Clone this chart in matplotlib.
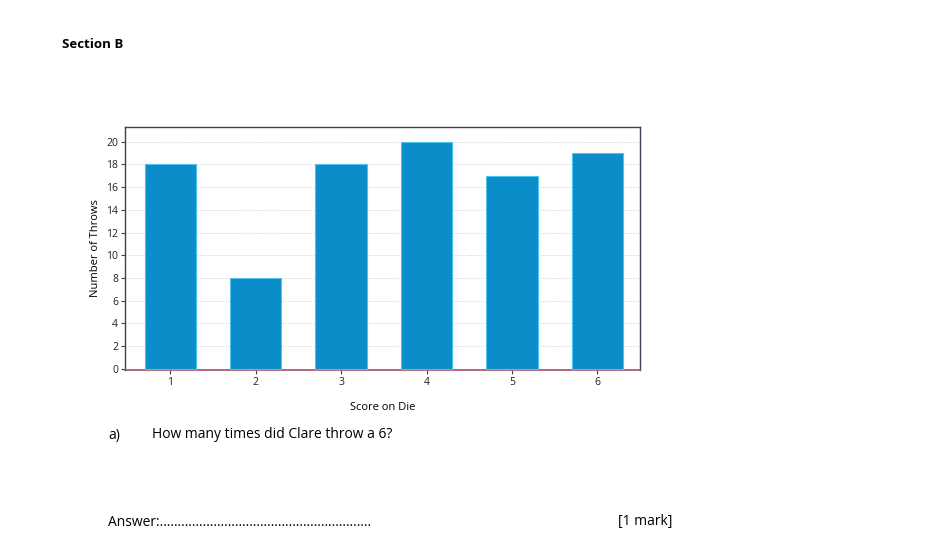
import matplotlib
matplotlib.use("Agg")
import matplotlib.pyplot as plt

scores = [1, 2, 3, 4, 5, 6]
throws = [18, 8, 18, 20, 17, 19]
y_ticks = list(range(0, 21, 2))

plt.rcParams["font.family"] = ["Open Sans", "DejaVu Sans"]

fig = plt.figure(figsize=(9.45, 5.38), dpi=100)
ax = fig.add_axes([0.1323, 0.3123, 0.545, 0.4517])

ax.bar(scores, throws, width=0.6, color="#0b8dca", edgecolor="#4cc3ee", linewidth=0.8, zorder=3)
ax.set_xlim(0.47, 6.5)
ax.set_ylim(-0.1, 21.3)
ax.set_xticks(scores)
ax.set_yticks(y_ticks)
ax.tick_params(labelsize=7.5, length=3, color="#444444", labelcolor="#222222", pad=2)
ax.yaxis.grid(True, linestyle=":", color="#cccccc", linewidth=0.7, zorder=0)
ax.set_xlabel("Score on Die", fontsize=8, labelpad=10)
ax.set_ylabel("Number of Throws", fontsize=8, labelpad=4)
for side in ["top", "right", "left"]:
    ax.spines[side].set_color("#3a3f55")
    ax.spines[side].set_linewidth(1.0)
ax.spines["bottom"].set_color("#a05560")
ax.spines["bottom"].set_linewidth(1.2)

fig.text(62 / 945, 1 - 44 / 538, "Section B", fontsize=9.5, fontweight="bold", va="center")
fig.text(108 / 945, 1 - 435 / 538, "a)", fontsize=10, va="center")
fig.text(152 / 945, 1 - 435 / 538, "How many times did Clare throw a 6?", fontsize=10, va="center")
fig.text(108 / 945, 1 - 522 / 538, "Answer:" + "\u2026" * 19 + "..", fontsize=10, va="center")
fig.text(618 / 945, 1 - 522 / 538, "[1 mark]", fontsize=10, va="center")

fig.savefig("out.png", dpi=100)
